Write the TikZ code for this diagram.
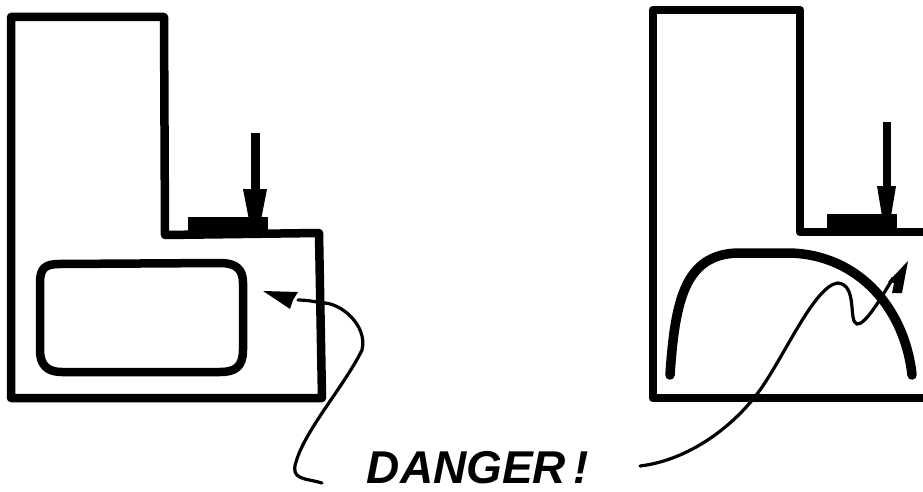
\documentclass[tikz,border=0pt]{standalone}
\usepackage{fontspec}
\setsansfont{Liberation Sans}
\usepackage{tikz}
\usetikzlibrary{calc}

\tikzset{
  wall/.style={line width=8.5pt,line join=round},
  thinline/.style={line width=3.2pt,line cap=round}
}

\begin{document}
\begin{tikzpicture}[x=1pt,y=-1pt]
            \useasboundingbox (0,0) rectangle (923,492);
            \fill[white] (0,0) rectangle (923,492);
            % left body
            \draw[wall] (11,17) -- (164,17) -- (165,235) -- (319,233) -- (322,398) -- (11,398) -- cycle;
            \fill (188,217) rectangle (268,234);
            \draw[line width=9pt] (255,133) -- (255,220);
            \fill (243,189) -- (267,189) -- (261,220) -- (249,220) -- cycle;
            \draw[wall] (40,283) .. controls (40,268) and (45,264) .. (60,264) -- (220,263) .. controls (237,263) and (243,270) .. (243,283) -- (243,350) .. controls (243,367) and (235,372) .. (220,372) -- (62,372) .. controls (47,372) and (40,365) .. (40,350) -- cycle;
            % right body
            \draw[wall] (923,232) -- (800,232) -- (800,10) -- (653,10) -- (653,398) -- (923,398);
            \fill (827,214) rectangle (897,234);
            \draw[line width=8pt] (887,122) -- (887,216);
            \fill (877,186) -- (896,186) -- (891,216) -- (882,216) -- cycle;
            \draw[line width=9.5pt,line cap=round] (670,375) .. controls (675,300) and (685,255) .. (737,253) -- (790,253) .. controls (860,255) and (905,310) .. (912,375);
            % label
            \node[font=\sffamily\bfseries\itshape\fontsize{46}{46}\selectfont,inner sep=0pt] (danger) at (478,468) {DANGER\,!};
            % pointers
            \coordinate (leftstart) at (322,483);
            \coordinate (leftend) at (298,300);
            \coordinate (rightstart) at (640,466);
            \coordinate (rightend) at (893,278);
            \draw[thinline] (leftstart) .. controls (305,478) and (290,480) .. (296,462) .. controls (305,430) and (345,385) .. (362,350) .. controls (368,325) and (340,302) .. (322,303) .. controls (312,301) and (305,300) .. (leftend);
            \fill (263,291) -- (298,292) -- (293,300) -- (290,309) -- cycle;
            \draw[thinline] (rightstart) .. controls (690,460) and (735,425) .. (760,390) .. controls (785,355) and (815,285) .. (838,283) .. controls (858,285) and (848,322) .. (857,324) .. controls (865,325) and (880,300) .. (rightend);
            \fill (908,261) -- (888,282) -- (894,283) -- (892,293) -- (902,293) -- cycle;
        \end{tikzpicture}
\end{document}
